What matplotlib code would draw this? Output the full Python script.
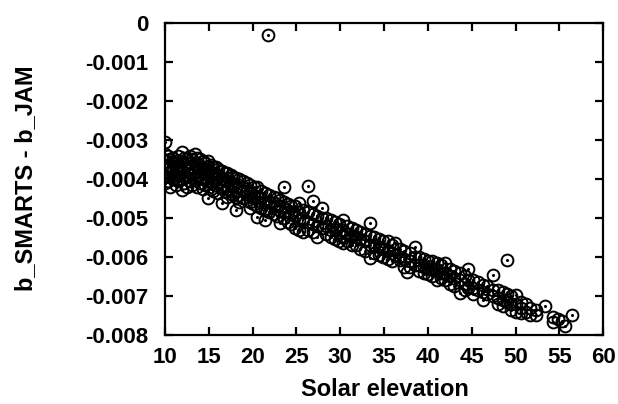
"""
b_SMARTS - b_JAM difference versus solar elevation (scatter).
"""

import matplotlib.pyplot as plt
import numpy as np

# values, y stored in units of 1e-3
elevation = [
    10.0, 10.0, 10.0, 10.0, 10.0, 10.0,
    10.3, 10.3, 10.3, 10.3,
    10.6, 10.6, 10.6, 10.6,
    10.9, 10.9, 10.9, 10.9,
    11.2, 11.2, 11.2, 11.2,
    11.5, 11.5, 11.5, 11.5,
    11.9, 11.9, 11.9, 11.9, 11.9,
    12.2, 12.2, 12.2, 12.2,
    12.5, 12.5, 12.5, 12.5,
    12.8, 12.8, 12.8, 12.8,
    13.1, 13.1, 13.1, 13.1,
    13.4, 13.4, 13.4, 13.4,
    13.7, 13.7, 13.7, 13.7,
    14.0, 14.0, 14.0, 14.0,
    14.3, 14.3, 14.3, 14.3,
    14.6, 14.6, 14.6, 14.6,
    14.9, 14.9, 14.9, 14.9,
    15.2, 15.2, 15.2, 15.2,
    15.5, 15.5, 15.5, 15.5,
    15.8, 15.8, 15.8,
    16.1, 16.1, 16.1, 16.1,
    16.5, 16.5, 16.5, 16.5,
    16.8, 16.8, 16.8,
    17.1, 17.1, 17.1, 17.1,
    17.5, 17.5, 17.5,
    17.8, 17.8, 17.8,
    18.1, 18.1, 18.1, 18.1,
    18.5, 18.5, 18.5, 18.5,
    18.9, 18.9, 18.9,
    19.3, 19.3, 19.3,
    19.7, 19.7, 19.7, 19.7,
    20.1, 20.1, 20.1,
    20.5, 20.5, 20.5, 20.5,
    21.0, 21.0, 21.0,
    21.4, 21.4, 21.4, 21.4,
    21.9, 21.9, 21.9,
    21.8,
    22.4, 22.4, 22.4,
    22.8, 22.8, 22.8,
    23.1, 23.1, 23.1,
    23.6, 23.6, 23.6, 23.6,
    24.0, 24.0, 24.0,
    24.4, 24.4, 24.4,
    24.8, 24.8, 24.8,
    25.3, 25.3, 25.3, 25.3,
    25.7, 25.7, 25.7,
    26.3, 26.3, 26.3, 26.3,
    26.9, 26.9, 26.9, 26.9,
    27.3, 27.3, 27.3,
    27.9, 27.9, 27.9,
    28.4, 28.4, 28.4,
    28.9, 28.9, 28.9,
    29.4, 29.4, 29.4,
    29.9, 29.9, 29.9,
    30.3, 30.3, 30.3, 30.3,
    30.8, 30.8, 30.8,
    31.3, 31.3, 31.3,
    31.8, 31.8, 31.8,
    32.3, 32.3, 32.3,
    32.8, 32.8, 32.8,
    33.4, 33.4, 33.4, 33.4,
    33.9, 33.9, 33.9,
    34.4, 34.4, 34.4,
    34.9, 34.9, 34.9,
    35.4, 35.4, 35.4,
    35.9, 35.9, 35.9,
    36.3, 36.3,
    36.8, 36.8, 36.8,
    37.3, 37.3, 37.3,
    37.6,
    38.0, 38.0, 38.0,
    38.5, 38.5, 38.5,
    39.0, 39.0, 39.0,
    39.5, 39.5, 39.5,
    40.0, 40.0, 40.0,
    40.5, 40.5, 40.5,
    41.0, 41.0, 41.0,
    41.5, 41.5, 41.5,
    42.0, 42.0, 42.0,
    42.5, 42.5, 42.5,
    43.0, 43.0, 43.0,
    43.7, 43.7, 43.7,
    44.2, 44.2, 44.2,
    44.6, 44.6, 44.6,
    45.1, 45.1, 45.1,
    45.7, 45.7,
    46.3, 46.3, 46.3,
    46.8, 46.8,
    47.4, 47.4, 47.4,
    48.0, 48.0, 48.0,
    48.6, 48.6, 48.6,
    49.0, 49.0, 49.0,
    49.5, 49.5, 49.5,
    50.0, 50.0, 50.0,
    50.6, 50.6, 50.6,
    51.2, 51.2,
    51.7, 51.7,
    52.3, 52.3,
    53.4,
    54.3, 54.3,
    54.8,
    55.3,
    55.7,
    56.4,
]

diff_e3 = [
    -3.05, -3.35, -3.55, -3.75, -3.95, -4.1,
    -3.4, -3.65, -3.85, -4.05,
    -3.5, -3.7, -3.95, -4.2,
    -3.45, -3.6, -3.8, -4.0,
    -3.55, -3.75, -3.95, -4.15,
    -3.4, -3.65, -3.85, -4.05,
    -3.3, -3.55, -3.8, -4.0, -4.28,
    -3.45, -3.7, -3.9, -4.1,
    -3.5, -3.75, -3.95, -4.2,
    -3.4, -3.6, -3.85, -4.05,
    -3.5, -3.7, -3.9, -4.15,
    -3.35, -3.6, -3.8, -4.0,
    -3.45, -3.7, -3.95, -4.2,
    -3.5, -3.75, -3.9, -4.1,
    -3.55, -3.8, -4.0, -4.25,
    -3.6, -3.75, -3.95, -4.15,
    -3.55, -3.8, -4.05, -4.5,
    -3.65, -3.85, -4.05, -4.25,
    -3.7, -3.9, -4.1, -4.3,
    -3.7, -3.95, -4.15,
    -3.75, -3.9, -4.1, -4.35,
    -3.8, -4.0, -4.2, -4.62,
    -3.85, -4.05, -4.3,
    -3.85, -4.05, -4.25, -4.45,
    -3.9, -4.1, -4.3,
    -3.95, -4.15, -4.4,
    -3.97, -4.2, -4.45, -4.8,
    -4.0, -4.2, -4.4, -4.6,
    -4.05, -4.3, -4.5,
    -4.1, -4.3, -4.55,
    -4.15, -4.35, -4.6, -4.75,
    -4.2, -4.4, -4.65,
    -4.2, -4.45, -4.7, -4.97,
    -4.3, -4.5, -4.75,
    -4.35, -4.6, -4.8, -5.05,
    -4.4, -4.6, -4.85,
    -0.31,
    -4.45, -4.7, -4.9,
    -4.5, -4.7, -4.95,
    -4.55, -4.8, -5.13,
    -4.2, -4.6, -4.85, -5.0,
    -4.65, -4.85, -5.1,
    -4.7, -4.9, -5.15,
    -4.7, -4.95, -5.26,
    -4.62, -4.85, -5.05, -5.3,
    -4.8, -5.0, -5.36,
    -4.18, -4.85, -5.1, -5.3,
    -4.56, -4.9, -5.15, -5.35,
    -4.95, -5.2, -5.49,
    -4.74, -5.0, -5.25,
    -5.0, -5.2, -5.4,
    -5.05, -5.3, -5.5,
    -5.1, -5.3, -5.55,
    -5.15, -5.35, -5.6,
    -5.05, -5.3, -5.45, -5.64,
    -5.2, -5.4, -5.6,
    -5.25, -5.45, -5.7,
    -5.3, -5.5, -5.7,
    -5.35, -5.55, -5.8,
    -5.4, -5.6, -5.85,
    -5.13, -5.45, -5.7, -6.03,
    -5.5, -5.7, -5.9,
    -5.55, -5.75, -5.95,
    -5.6, -5.8, -6.0,
    -5.6, -5.85, -6.05,
    -5.7, -5.9, -6.1,
    -5.65, -5.95,
    -5.8, -6.0, -6.08,
    -5.85, -6.05, -6.25,
    -6.38,
    -5.9, -6.1, -6.25,
    -5.74, -6.0, -6.2,
    -6.0, -6.2, -6.35,
    -6.05, -6.25, -6.4,
    -6.1, -6.3, -6.45,
    -6.1, -6.3, -6.5,
    -6.15, -6.35, -6.59,
    -6.2, -6.4, -6.55,
    -6.15, -6.4, -6.6,
    -6.3, -6.5, -6.7,
    -6.35, -6.55, -6.75,
    -6.4, -6.6, -6.92,
    -6.5, -6.7, -6.85,
    -6.31, -6.6, -6.8,
    -6.6, -6.8, -6.95,
    -6.65, -6.85,
    -6.72, -6.9, -7.1,
    -6.75, -6.95,
    -6.46, -6.85, -7.0,
    -6.85, -7.05, -7.2,
    -6.9, -7.1, -7.25,
    -6.08, -6.95, -7.15,
    -7.0, -7.2, -7.35,
    -6.97, -7.2, -7.4,
    -7.15, -7.3, -7.45,
    -7.2, -7.4,
    -7.3, -7.5,
    -7.35, -7.5,
    -7.26,
    -7.55, -7.67,
    -7.6,
    -7.65,
    -7.77,
    -7.49,
]

x_ticks = [10, 15, 20, 25, 30, 35, 40, 45, 50, 55, 60]
y_ticks = [0, -0.001, -0.002, -0.003, -0.004, -0.005, -0.006, -0.007, -0.008]
y_tick_labels = ["0", "-0.001", "-0.002", "-0.003", "-0.004",
                 "-0.005", "-0.006", "-0.007", "-0.008"]

plt.rcParams["font.family"] = ["Liberation Sans", "DejaVu Sans"]
plt.rcParams["font.weight"] = "bold"

x = np.array(elevation)
y = np.array(diff_e3) * 1e-3

fig = plt.figure(figsize=(6.18, 4.04), dpi=100)
ax = fig.add_axes([0.267, 0.171, 0.709, 0.772])

ax.plot(x, y, linestyle="none", marker="o", markersize=8.5,
        markerfacecolor="none", markeredgecolor="black", markeredgewidth=1.4)
ax.plot(x, y, linestyle="none", marker="o", markersize=1.2,
        markerfacecolor="black", markeredgecolor="black")

ax.set_xlim(10, 60)
ax.set_ylim(-0.008, 0)
ax.set_xticks(x_ticks)
ax.set_yticks(y_ticks)
ax.set_yticklabels(y_tick_labels)

ax.tick_params(direction="in", length=6, width=1.6, top=True, right=True,
               labelsize=16)
ax.tick_params(axis="x", pad=9)
ax.tick_params(axis="y", pad=12)
for side in ax.spines.values():
    side.set_linewidth(1.6)

ax.set_xlabel("Solar elevation", fontsize=17, fontweight="bold")
ax.set_ylabel("b_SMARTS - b_JAM", fontsize=17, fontweight="bold")
ax.xaxis.set_label_coords(0.502, -0.138)
ax.yaxis.set_label_coords(-0.292, 0.503)

fig.savefig("out.png", dpi=100)
